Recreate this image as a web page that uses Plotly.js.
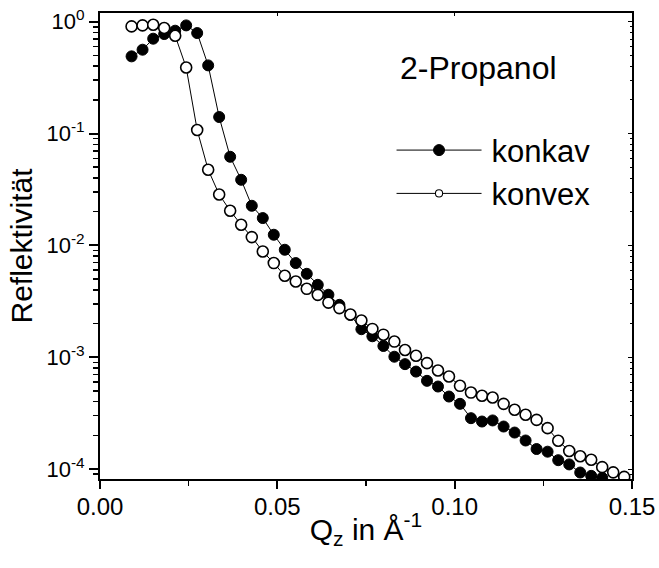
<!DOCTYPE html>
<html><head><meta charset="utf-8">
<script src="https://cdn.plot.ly/plotly-3.0.1.min.js"></script>
<style>html,body{margin:0;padding:0;background:#fff;}#chart{width:659px;height:568px;}</style>
</head><body><div id="chart"></div>
<script>
// Q_z values (1/Angstrom), shared by both series
const qz = [0.0089, 0.0120, 0.0150, 0.0181, 0.0212, 0.0243, 0.0274, 0.0305, 0.0336, 0.0367,
            0.0398, 0.0428, 0.0459, 0.0490, 0.0521, 0.0552, 0.0583, 0.0614, 0.0644, 0.0675,
            0.0706, 0.0737, 0.0768, 0.0799, 0.0830, 0.0860, 0.0891, 0.0922, 0.0953, 0.0984,
            0.1015, 0.1046, 0.1077, 0.1107, 0.1138, 0.1169, 0.1200, 0.1231, 0.1262, 0.1292,
            0.1323, 0.1354, 0.1385, 0.1416, 0.1447, 0.1478];
// Reflektivität konkav (filled circles)
const konkav = [0.490, 0.562, 0.705, 0.776, 0.831, 0.927, 0.792, 0.407, 0.1406, 0.0620,
                0.0386, 0.0226, 0.01755, 0.01245, 0.00914, 0.00695, 0.00557, 0.00444, 0.00362, 0.00294,
                0.00239, 0.00178, 0.00154, 0.00126, 0.00101, 0.000867, 0.000744, 0.000615, 0.000547, 0.000445,
                0.000383, 0.000285, 0.000266, 0.000272, 0.000240, 0.000212, 0.000180, 0.000151, 0.000143, 0.000120,
                0.000110, 0.0000931, 0.0000869, 0.0000834];
// Reflektivität konvex (open circles)
const konvex = [0.908, 0.927, 0.940, 0.879, 0.749, 0.390, 0.1075, 0.0475, 0.0285, 0.0204,
                0.01528, 0.01186, 0.00882, 0.00695, 0.00535, 0.00475, 0.00409, 0.00361, 0.00308, 0.00275,
                0.00241, 0.00213, 0.00179, 0.00159, 0.00138, 0.00116, 0.00103, 0.000885, 0.000760, 0.000672,
                0.000555, 0.000483, 0.000452, 0.000436, 0.000383, 0.000339, 0.000306, 0.000275, 0.000232, 0.000179,
                0.000145, 0.000130, 0.000121, 0.000104, 0.0000934, 0.0000851];

const seriesNames = ['konkav', 'konvex'];
const xTickVals = [0, 0.05, 0.10, 0.15];
const xTickText = ['0.00', '0.05', '0.10', '0.15'];
const xMinorVals = [0.025, 0.075, 0.125];
const yTickVals = [1, 0.1, 0.01, 0.001, 0.0001];
const yTickText = ['10<sup>0</sup>', '10<sup>-1</sup>', '10<sup>-2</sup>', '10<sup>-3</sup>', '10<sup>-4</sup>'];
const titleText = '2-Propanol';

const yMinorVals = [];
for (let d = -5; d <= 0; d++) for (let m = 2; m <= 9; m++) yMinorVals.push(m * Math.pow(10, d));

const FONT = 'Liberation Sans, Arial, sans-serif';
const xRange = [0, 0.15];
const yRange = [-4.089, 0.078];

const traces = [
  {x: qz.slice(0, konkav.length), y: konkav, name: seriesNames[0], type: 'scatter', mode: 'lines+markers',
   line: {color: '#000', width: 1},
   marker: {symbol: 'circle', size: 11, color: '#000', line: {color: '#000', width: 1}}},
  {x: qz.slice(0, konvex.length), y: konvex, name: seriesNames[1], type: 'scatter', mode: 'lines+markers',
   line: {color: '#000', width: 1},
   marker: {symbol: 'circle', size: 11, color: '#fff', line: {color: '#000', width: 1.6}}},
  {x: [], y: [], xaxis: 'x2', yaxis: 'y2', showlegend: false, hoverinfo: 'skip', type: 'scatter'}
];

const layout = {
  width: 659, height: 568,
  margin: {l: 100, r: 27, t: 13, b: 89},
  paper_bgcolor: '#fff', plot_bgcolor: '#fff',
  font: {family: FONT, color: '#000'},
  showlegend: true,
  legend: {x: 0.548, xanchor: 'left', y: 0.763, yanchor: 'top', bgcolor: 'rgba(0,0,0,0)',
           font: {family: FONT, size: 31, color: '#000'}, itemwidth: 90, tracegroupgap: 0},
  xaxis: {range: xRange, showgrid: false, zeroline: false, showline: true, linecolor: '#000', linewidth: 2,
          mirror: true, ticks: 'outside', ticklen: 8, tickwidth: 2, tickcolor: '#000',
          tickmode: 'array', tickvals: xTickVals, ticktext: xTickText, ticklabelstandoff: -3,
          tickfont: {family: FONT, size: 24, color: '#000'},
          minor: {tickmode: 'array', tickvals: xMinorVals, ticks: 'outside', ticklen: 5, tickwidth: 1.5, tickcolor: '#000', showgrid: false},
          title: {text: 'Q<sub>z</sub> in Å<sup>-1</sup>', font: {family: FONT, size: 30, color: '#000'}, standoff: 0}},
  yaxis: {type: 'log', range: yRange, showgrid: false, zeroline: false, showline: true, linecolor: '#000', linewidth: 2,
          mirror: true, ticks: 'outside', ticklen: 9, tickwidth: 2, tickcolor: '#000',
          tickmode: 'array', tickvals: yTickVals, ticktext: yTickText,
          tickfont: {family: FONT, size: 22, color: '#000'},
          minor: {tickmode: 'array', tickvals: yMinorVals, ticks: 'outside', ticklen: 5, tickwidth: 1.5, tickcolor: '#000', showgrid: false},
          title: {text: 'Reflektivität', font: {family: FONT, size: 30, color: '#000'}, standoff: 5}},
  xaxis2: {overlaying: 'x', side: 'top', anchor: 'y', range: xRange, showgrid: false, zeroline: false, showline: false,
           ticks: 'inside', ticklen: 3, tickwidth: 1, tickcolor: '#000', tickmode: 'array', tickvals: xTickVals,
           showticklabels: false},
  yaxis2: {overlaying: 'y', side: 'right', anchor: 'x', type: 'log', range: yRange, showgrid: false, zeroline: false, showline: false,
           ticks: 'inside', ticklen: 4, tickwidth: 1, tickcolor: '#000', tickmode: 'array', tickvals: yTickVals,
           minor: {tickmode: 'array', tickvals: yMinorVals, ticks: 'inside', ticklen: 2, tickwidth: 1, tickcolor: '#000', showgrid: false},
           showticklabels: false},
  annotations: [{text: titleText, xref: 'paper', yref: 'paper', x: 0.712, y: 0.883, xanchor: 'center', yanchor: 'middle',
                 showarrow: false, font: {family: FONT, size: 32, color: '#000'}}]
};

Plotly.newPlot('chart', traces, layout, {displayModeBar: false, staticPlot: true}).then(function (gd) {
  // widen the legend sample line (line - marker - line) like the reference
  gd.querySelectorAll('g.legend g.traces').forEach(function (g, i) {
    g.querySelectorAll('g.legendlines path').forEach(function (p) { p.setAttribute('d', 'M5,0h85'); });
    g.querySelectorAll('g.legendpoints path.scatterpts').forEach(function (p) {
      p.setAttribute('transform', i === 1 ? 'translate(47.5,0) scale(0.65)' : 'translate(47.5,0)');
    });
  });
});
</script>
</body></html>
